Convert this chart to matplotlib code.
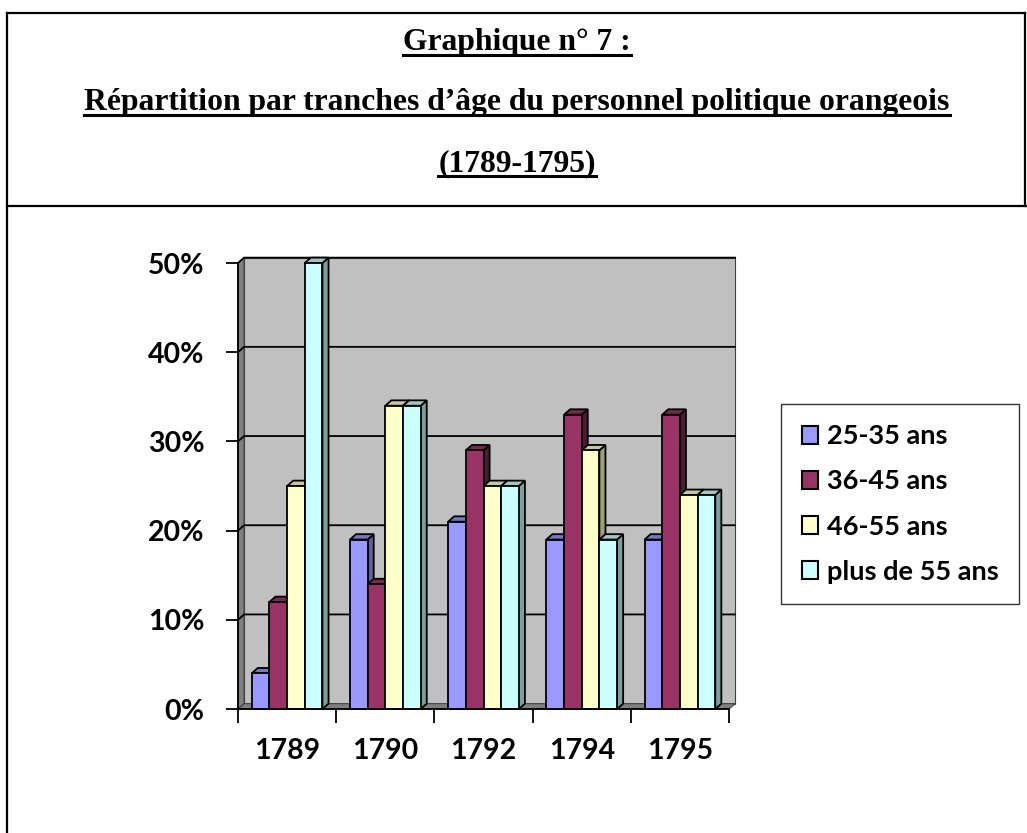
import matplotlib
matplotlib.use("Agg")
import matplotlib.pyplot as plt
import numpy as np
from matplotlib.patches import Rectangle, Polygon, Patch
from matplotlib.lines import Line2D
from matplotlib.colors import to_rgb
# =========================================================================== #

years = ['1789', '1790', '1792', '1794', '1795']
groups = ['25-35 ans', '36-45 ans', '46-55 ans', 'plus de 55 ans']
age_25_35 = [4, 19, 21, 19, 19]
age_36_45 = [12, 14, 29, 33, 33]
age_46_55 = [25, 34, 25, 29, 24]
age_55_plus = [50, 34, 25, 19, 24]
yticks = [0, 10, 20, 30, 40, 50]
ytick_labels = ['0%', '10%', '20%', '30%', '40%', '50%']

colors = ['#9999FF', '#993366', '#FFFFCC', '#CCFFFF']
title_lines = ['Graphique n° 7 :',
               'Répartition par tranches d\u2019âge du personnel politique orangeois',
               '(1789-1795)']

W, H = 1027, 833


def shade(c, f):
    r, g, b = to_rgb(c)
    return (r * f, g * f, b * f)


def fx(px):
    return px / W


def fy(py):
    return 1 - py / H


fig = plt.figure(figsize=(W / 100, H / 100), dpi=100)
fig.patch.set_facecolor('white')

# page borders (table cells)
frame_kw = dict(color='black', lw=1.6, transform=fig.transFigure)
fig.add_artist(Line2D([fx(7), fx(1025)], [fy(13), fy(13)], **frame_kw))
fig.add_artist(Line2D([fx(7), fx(7)], [fy(13), fy(833)], **frame_kw))
fig.add_artist(Line2D([fx(1025), fx(1025)], [fy(13), fy(206)], **frame_kw))
fig.add_artist(Line2D([fx(7), fx(1027)], [fy(206), fy(206)], **frame_kw))

# titles, underlined
title_y = [50, 110, 171]
title_txt = []
for line, ty in zip(title_lines, title_y):
    t = fig.text(fx(517), fy(ty), line, ha='center', va='baseline',
                 fontsize=22.8, fontweight='bold', family='Liberation Serif')
    title_txt.append(t)

# chart axes (front plane)
left, right, top, bottom = 238, 729, 263, 709
ax = fig.add_axes([fx(left), fy(bottom), (right - left) / W, (bottom - top) / H])
ax.set_xlim(0, len(years))
ax.set_ylim(0, 50)
ax.patch.set_visible(False)

dx = 0.062   # depth offset in category units
dy = 0.6     # depth offset in %
ncat = len(years)

# walls
wall_kw = dict(clip_on=False, edgecolor='#404040', lw=0.8)
ax.add_patch(Polygon([(dx, dy), (ncat + dx, dy), (ncat + dx, 50 + dy), (dx, 50 + dy)],
                     closed=True, facecolor='#C0C0C0', zorder=0, **wall_kw))
ax.add_patch(Polygon([(0, 0), (dx, dy), (dx, 50 + dy), (0, 50)],
                     closed=True, facecolor='#808080', zorder=0.5, **wall_kw))
ax.add_patch(Polygon([(0, 0), (ncat, 0), (ncat + dx, dy), (dx, dy)],
                     closed=True, facecolor='#808080', zorder=0.5, **wall_kw))

# gridlines on back wall
for v in yticks[1:]:
    ax.plot([0, dx, ncat + dx], [v, v + dy, v + dy], color='black', lw=1.3,
            clip_on=False, zorder=1)

# bars
series = [age_25_35, age_36_45, age_46_55, age_55_plus]
bw = 0.18
off = (1 - bw * len(series)) / 2
z = 2
edge = dict(edgecolor='black', lw=1.3, clip_on=False)
for i in range(ncat):
    for j, vals in enumerate(series):
        v = vals[i]
        x0 = i + off + j * bw
        c = colors[j]
        side_f = 0.5 if j == 1 else 0.62
        ax.add_patch(Polygon([(x0 + bw, 0), (x0 + bw + dx, dy), (x0 + bw + dx, v + dy), (x0 + bw, v)],
                             closed=True, facecolor=shade(c, side_f), zorder=z, **edge))
        ax.add_patch(Polygon([(x0, v), (x0 + bw, v), (x0 + bw + dx, v + dy), (x0 + dx, v + dy)],
                             closed=True, facecolor=shade(c, 0.78), zorder=z, **edge))
        ax.add_patch(Rectangle((x0, 0), bw, v, facecolor=c, zorder=z + 0.5, **edge))
        z += 1

# axes lines and ticks
for s in ['top', 'right']:
    ax.spines[s].set_visible(False)
for s in ['left', 'bottom']:
    ax.spines[s].set_linewidth(1.3)
    ax.spines[s].set_zorder(z + 1)
ax.set_yticks(yticks)
ax.set_yticklabels(ytick_labels, fontsize=20.5, fontweight='bold', family='Lato')
ax.tick_params(axis='y', direction='out', length=9, width=1.3, pad=15)
ax.set_xticks(range(ncat + 1))
ax.set_xticklabels([])
ax.tick_params(axis='x', which='major', direction='out', length=10, width=1.3)
ax.set_xticks(np.arange(ncat) + 0.5, minor=True)
ax.set_xticklabels(years, minor=True, fontsize=20.5, fontweight='bold', family='Lato')
ax.tick_params(axis='x', which='minor', length=0, pad=21)

# legend
handles = [Patch(facecolor=c, edgecolor='black', lw=1.5) for c in colors]
leg = fig.legend(handles, groups, loc='center', bbox_to_anchor=(fx(900), fy(504)),
                 frameon=True, fancybox=False, edgecolor='black',
                 prop={'family': 'Lato', 'weight': 'bold', 'size': 19.5},
                 handlelength=0.62, handleheight=0.62, handletextpad=0.3,
                 labelspacing=0.78, borderpad=0.75, borderaxespad=0)
leg.get_frame().set_linewidth(1.0)

# underline titles
fig.canvas.draw()
r = fig.canvas.get_renderer()
for t, ty in zip(title_txt, title_y):
    bb = t.get_window_extent(r)
    x0, x1 = bb.x0 / W, bb.x1 / W
    fig.add_artist(Line2D([x0, x1], [fy(ty + 5), fy(ty + 5)], color='black', lw=2.2,
                          transform=fig.transFigure))

fig.savefig('out.png', dpi=100)
